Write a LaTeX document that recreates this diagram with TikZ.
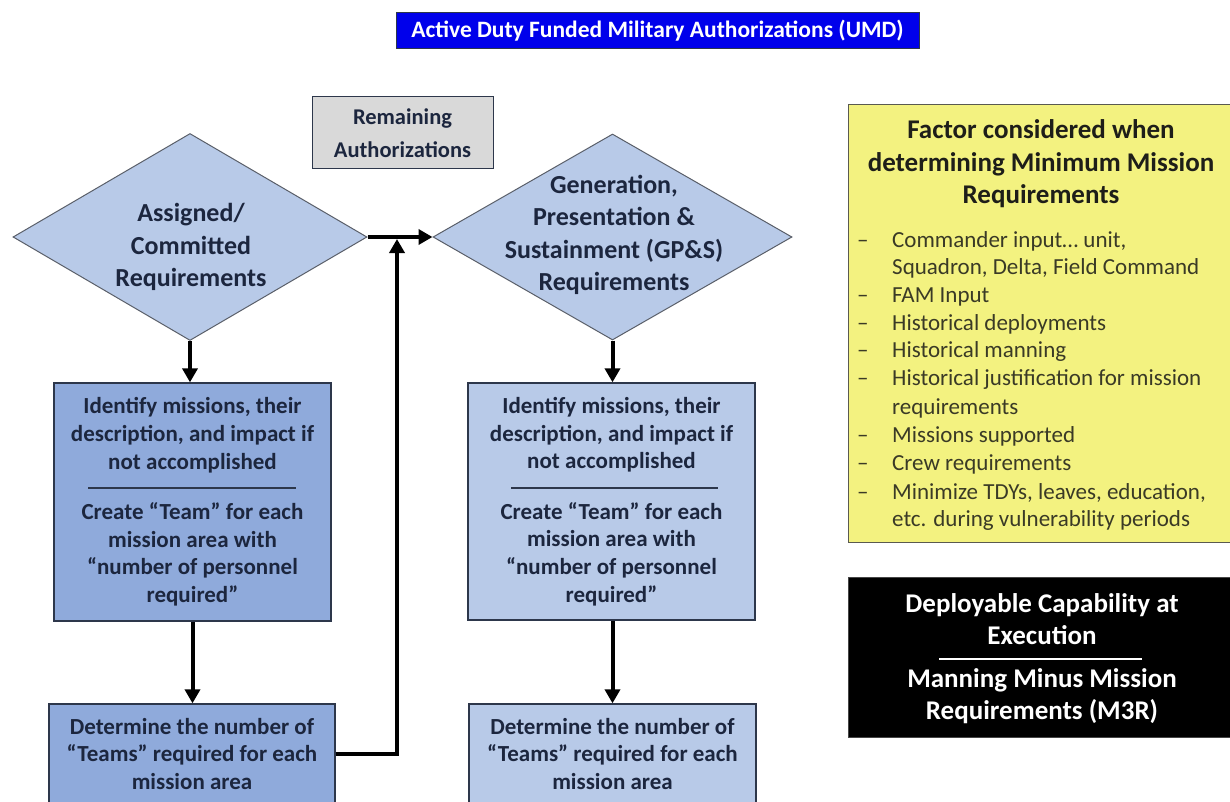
\documentclass[tikz,border=0pt]{standalone}
\usepackage{fontspec}
\setmainfont{Carlito}
\usetikzlibrary{shapes.geometric,arrows.meta}

\definecolor{titleblue}{RGB}{0,0,235}
\definecolor{navytext}{RGB}{28,38,62}
\definecolor{diafill}{RGB}{184,202,232}
\definecolor{darkbox}{RGB}{143,170,219}
\definecolor{lightbox}{RGB}{184,202,232}
\definecolor{boxline}{RGB}{45,55,75}
\definecolor{greyfill}{RGB}{217,217,217}
\definecolor{notefill}{RGB}{243,242,128}
\definecolor{notetext}{RGB}{58,58,38}

\tikzset{
  fsz/.style 2 args={font=\fontsize{#1}{#2}\selectfont\bfseries},
  titlebox/.style={draw=boxline, line width=0.8pt, fill=titleblue, text=white,
    fsz={23.5}{28}, inner sep=0pt},
  greybox/.style={draw=boxline, line width=1pt, fill=greyfill, text=navytext,
    fsz={22.5}{33}, align=center, inner sep=0pt},
  dia/.style={diamond, draw={rgb,255:red,90;green,95;blue,105}, line width=1pt,
    fill=diafill, inner sep=0pt},
  diatext/.style={text=navytext, fsz={26}{32.5}, align=center, inner sep=0pt},
  stepbox/.style={draw=boxline, line width=1.3pt, text=navytext,
    fsz={23}{27.6}, align=center, inner sep=0pt},
  rulebar/.style={draw=boxline, line width=2.4pt},
  flow/.style={line width=4pt, -{Triangle[length=14pt,width=15pt]}},
  notebox/.style={draw={rgb,255:red,90;green,90;blue,80}, line width=1pt, fill=notefill},
  notehead/.style={text={rgb,255:red,30;green,30;blue,25}, fsz={27}{32.5}, align=center, inner sep=0pt},
  noteitem/.style={text=notetext, font=\fontsize{23}{28}\selectfont, anchor=west,
    inner sep=0pt, text height=15pt, text depth=0pt},
  blackbox/.style={fill=black, draw={rgb,255:red,70;green,70;blue,70}, line width=1pt},
  blacktext/.style={text=white, fsz={27}{32}, align=center, inner sep=0pt},
}

\begin{document}
\begin{tikzpicture}[x=1pt,y=-1pt]
\useasboundingbox (0,0) rectangle (1230,802);
\fill[white] (0,0) rectangle (1230,802);

% heading
\node[titlebox, minimum width=523pt, minimum height=36pt] (title) at (657.5,30.5)
  {Active Duty Funded Military Authorizations (UMD)};

% remaining authorizations
\node[greybox, minimum width=181pt, minimum height=72pt] (remain) at (402.5,133)
  {Remaining\\Authorizations};

% decision diamonds
\node[dia, minimum width=354pt, minimum height=207pt] (d1) at (190,237) {};
\node[diatext] (d1t) at (191,247) {Assigned/\\Committed\\Requirements};
\node[dia, minimum width=359pt, minimum height=206pt] (d2) at (612.5,237) {};
\node[diatext] (d2t) at (614,235) {Generation,\\Presentation \&\\Sustainment (GP\&S)\\Requirements};

% left column
\node[stepbox, fill=darkbox, minimum width=277pt, minimum height=238pt] (b1) at (192.5,502)
  {Identify missions, their\\description, and impact if\\not accomplished\\[23pt]
   Create “Team” for each\\mission area with\\“number of personnel\\required”};
\draw[rulebar] (88,488) -- (296,488);
\node[stepbox, fill=darkbox, minimum width=286pt, minimum height=100pt] (b2) at (192,754)
  {Determine the number of\\“Teams” required for each\\mission area};

% right column
\node[stepbox, fill=lightbox, minimum width=287pt, minimum height=237pt] (b3) at (611.5,501.5)
  {Identify missions, their\\description, and impact if\\not accomplished\\[23pt]
   Create “Team” for each\\mission area with\\“number of personnel\\required”};
\draw[rulebar] (511,488) -- (718,488);
\node[stepbox, fill=lightbox, minimum width=287pt, minimum height=100pt] (b4) at (612.5,754)
  {Determine the number of\\“Teams” required for each\\mission area};

% connectors
\coordinate (loopx) at (397,0);
\draw[flow] (d1.south) -- (d1.south |- b1.north);
\draw[flow] (b1.south) -- (b1.south |- b2.north);
\draw[flow] (d2.south) -- (d2.south |- b3.north);
\draw[flow] (d2.south |- b3.south) -- (d2.south |- b4.north);
\draw[flow] (d1.east) -- (d2.west);
\draw[flow, shorten >=2pt] (b2.east) -- (b2.east -| loopx) -- (loopx |- d1.east);

% factors note
\node[notebox, minimum width=387pt, minimum height=437pt] (note) at (1041.5,323.5) {};
\node[notehead] (nhead) at (1041,164)
  {Factor considered when\\determining Minimum Mission\\Requirements};
\foreach \y/\txt/\dash [count=\i] in {
  240/{Commander input… unit,}/1,
  267/{Squadron, Delta, Field Command}/0,
  295/{FAM Input}/1,
  323/{Historical deployments}/1,
  350/{Historical manning}/1,
  378/{Historical justification for mission}/1,
  407/{requirements}/0,
  435/{Missions supported}/1,
  463/{Crew requirements}/1,
  492/{Minimize TDYs, leaves, education,}/1,
  519/{etc. during vulnerability periods}/0}{
  \node[noteitem] (item\i) at (892,\y) {\txt};
  \ifnum\dash=1
    \node[noteitem] (dash\i) at (857,\y) {–};
  \fi
}

% deployable capability
\node[blackbox, minimum width=387pt, minimum height=160pt] (cap) at (1041.5,657) {};
\node[blacktext] (capt) at (1042,619) {Deployable Capability at\\Execution};
\draw[white, line width=2pt] (939,659) -- (1142,659);
\node[blacktext] (capb) at (1042,696.5) {Manning Minus Mission\\Requirements (M3R)};
\end{tikzpicture}
\end{document}
